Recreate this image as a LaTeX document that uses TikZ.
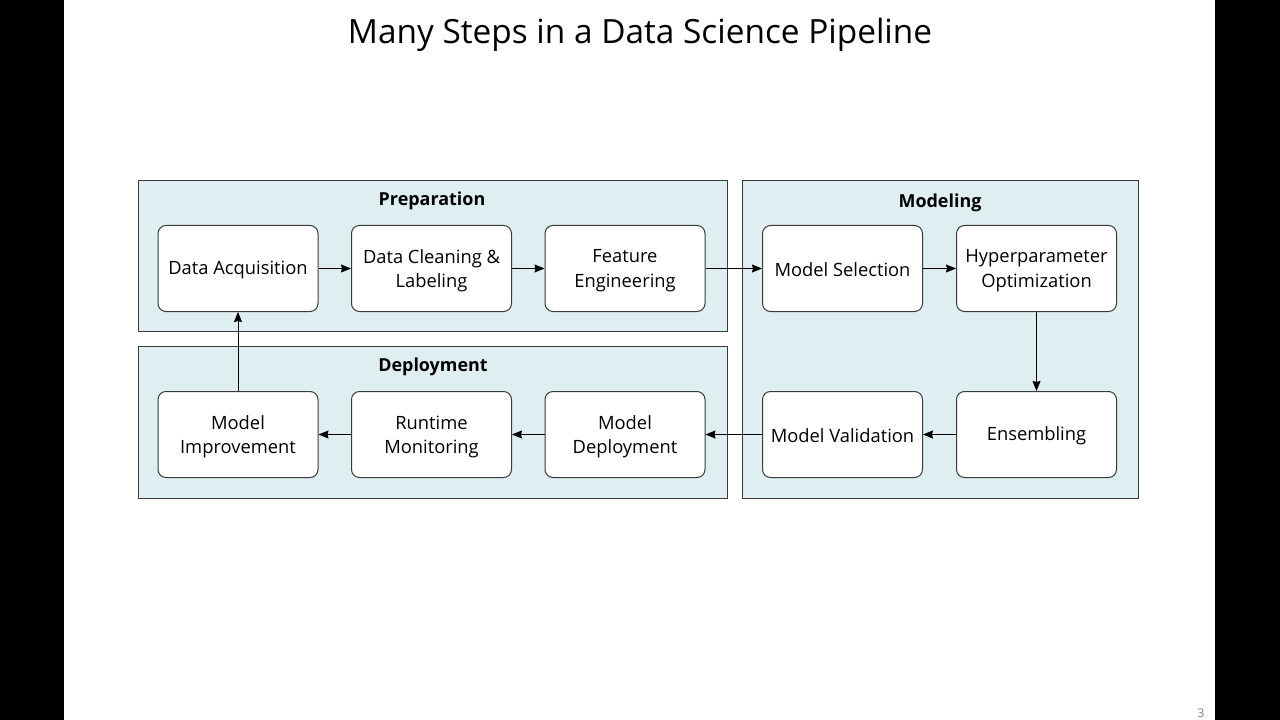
\documentclass[tikz,border=0pt]{standalone}
\usepackage{fontspec}
\setmainfont{Open Sans}
\usetikzlibrary{arrows.meta}
\definecolor{groupfill}{HTML}{DFEEF1}
\definecolor{edge}{HTML}{3A3A3A}
\begin{document}
\begin{tikzpicture}[x=1bp,y=-1bp,
  group/.style={draw=edge,line width=0.9bp,fill=groupfill},
  stepbox/.style={draw=edge,line width=1bp,fill=white,rounded corners=8bp,
    minimum width=160bp,minimum height=86bp,inner sep=2bp,align=center,
    font=\fontsize{18.4}{24.5}\selectfont,
    execute at begin node={\rule{0pt}{17bp}}},
  twoline/.style={execute at begin node={}, text depth=-1.5bp},
  grouptitle/.style={font=\fontsize{18}{20}\selectfont\bfseries},
  flow/.style={draw=black,line width=0.9bp,-{Stealth[length=10bp,width=8bp,inset=1bp]}}]
% page frame
\useasboundingbox (0,0) rectangle (1280,720);
\fill[black] (0,0) rectangle (64,720);
\fill[black] (1215,0) rectangle (1280,720);
\fill[white] (64,0) rectangle (1215,720);
\node[font=\fontsize{33.5}{38}\selectfont] (title) at (640,35) {Many Steps in a Data Science Pipeline};
\node[font=\fontsize{12}{13}\selectfont,text=gray] (pagenum) at (1201,713) {3};
% groups
\draw[group] (138,180) rectangle (727,331);
\draw[group] (742,180) rectangle (1138,498);
\draw[group] (138,346) rectangle (727,498);
\node[grouptitle] (prep) at (432,201) {Preparation};
\node[grouptitle] (model) at (940,203) {Modeling};
\node[grouptitle] (deploy) at (433,367) {Deployment};
% steps
\node[stepbox] (acq) at (238,268.5) {Data Acquisition};
\node[stepbox,twoline] (clean) at (431.5,268.5) {Data Cleaning \&\\Labeling};
\node[stepbox,twoline] (feat) at (625,268.5) {Feature\\Engineering};
\node[stepbox] (sel) at (842.5,268.5) {Model Selection};
\node[stepbox,twoline] (hyper) at (1036.5,268.5) {Hyperparameter\\Optimization};
\node[stepbox,twoline] (impr) at (238,434.5) {Model\\Improvement};
\node[stepbox,twoline] (mon) at (431.5,434.5) {Runtime\\Monitoring};
\node[stepbox,twoline] (dep) at (625,434.5) {Model\\Deployment};
\node[stepbox] (val) at (842.5,434.5) {Model Validation};
\node[stepbox] (ens) at (1036.5,434.5) {Ensembling};
% connectors
\draw[flow] (acq) -- (clean);
\draw[flow] (clean) -- (feat);
\draw[flow] (feat) -- (sel);
\draw[flow] (sel) -- (hyper);
\draw[flow] (hyper) -- (ens);
\draw[flow] (ens) -- (val);
\draw[flow] (val) -- (dep);
\draw[flow] (dep) -- (mon);
\draw[flow] (mon) -- (impr);
\draw[flow] (impr) -- (acq);
\end{tikzpicture}
\end{document}
